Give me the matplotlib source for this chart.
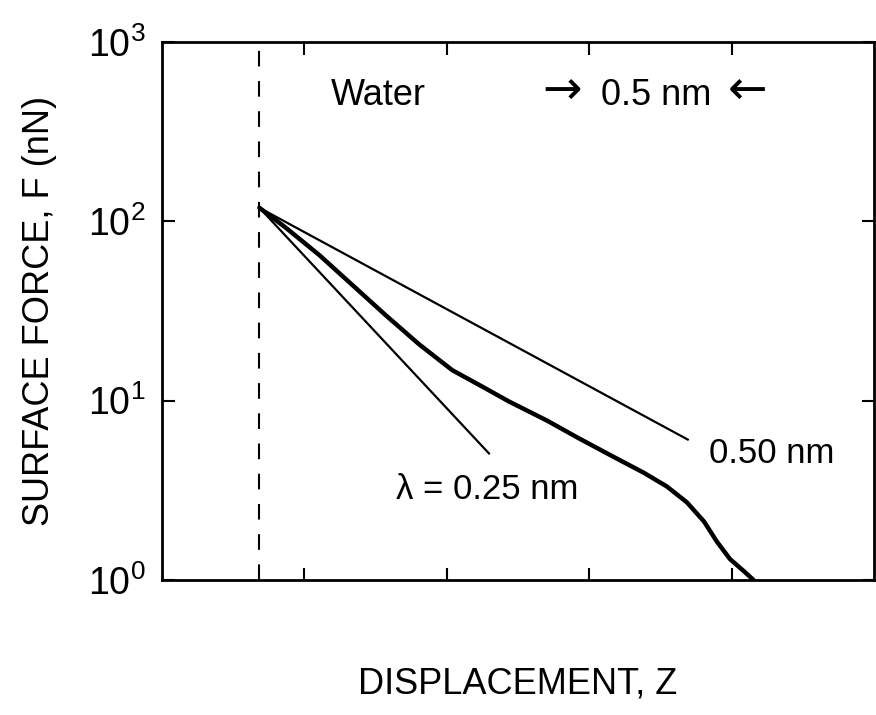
import matplotlib
matplotlib.use('Agg')
import matplotlib.pyplot as plt
from matplotlib import font_manager

names = {f.name for f in font_manager.fontManager.ttflist}
FAM = 'Liberation Sans Narrow' if 'Liberation Sans Narrow' in names else 'Liberation Sans'
plt.rcParams['font.family'] = [FAM, 'DejaVu Sans']
plt.rcParams['mathtext.fontset'] = 'custom'
plt.rcParams['mathtext.rm'] = FAM

# ---- data (x in nm, F in nN) ----
x_contact = 0.342
measured_x = [0.342, 0.434, 0.553, 0.668, 0.784, 0.903, 1.019, 1.134, 1.218,
              1.352, 1.457, 1.573, 1.692, 1.773, 1.843, 1.903, 1.948, 1.994,
              2.043, 2.077]
measured_F = [119.0, 92.3, 64.7, 44.2, 30.1, 20.6, 14.8, 11.75, 9.9,
              7.74, 6.25, 4.98, 3.96, 3.32, 2.71, 2.12, 1.64, 1.31,
              1.12, 1.0]
lam025_x = [0.342, 1.148]
lam025_F = [119.0, 5.08]
lam050_x = [0.342, 1.846]
lam050_F = [119.0, 6.07]
xticks = [0.5, 1.0, 1.5, 2.0]
yticks = [1, 10, 100, 1000]
ytick_labels = [r'$\mathregular{10^{0}}$', r'$\mathregular{10^{1}}$',
                r'$\mathregular{10^{2}}$', r'$\mathregular{10^{3}}$']

fig = plt.figure(figsize=(8.76, 7.15), dpi=100)
ax = fig.add_axes([162/876, 1-580/715, (874-162)/876, (580-42)/715])

ax.set_yscale('log')
ax.set_xlim(0, 2.5)
ax.set_ylim(1, 1000)

ax.plot(measured_x, measured_F, color='black', lw=3.2,
        solid_capstyle='round', solid_joinstyle='round')
ax.plot(lam025_x, lam025_F, color='black', lw=1.6)
ax.plot(lam050_x, lam050_F, color='black', lw=1.6)
ax.axvline(x_contact, color='black', lw=1.5, linestyle=(0, (7.5, 7.0)))

ax.set_xticks(xticks)
ax.set_xticklabels([])
ax.set_yticks(yticks)
ax.set_yticklabels(ytick_labels, fontsize=27)
ax.yaxis.set_minor_locator(matplotlib.ticker.NullLocator())
ax.tick_params(axis='both', direction='in', length=9, width=1.5,
               top=True, right=True, pad=12)
for s in ax.spines.values():
    s.set_linewidth(2.0)

ax.set_ylabel('SURFACE FORCE, F (nN)', fontsize=26, labelpad=22)
ax.set_xlabel('DISPLACEMENT, Z', fontsize=26, labelpad=50)

ax.text(0.76, 500, 'Water', fontsize=26, ha='center', va='center')
ax.text(1.405, 530, '\u2192', fontsize=34, ha='center', va='center',
        family=['DejaVu Sans'])
ax.text(1.735, 500, '0.5 nm', fontsize=26, ha='center', va='center')
ax.text(2.055, 530, '\u2190', fontsize=34, ha='center', va='center',
        family=['DejaVu Sans'])
ax.text(1.142, 3.21, '\u03bb = 0.25 nm', fontsize=25, ha='center', va='center',
        family=[FAM, 'DejaVu Sans'])
ax.text(2.14, 5.06, '0.50 nm', fontsize=25, ha='center', va='center')

fig.savefig('out.png', dpi=100)
